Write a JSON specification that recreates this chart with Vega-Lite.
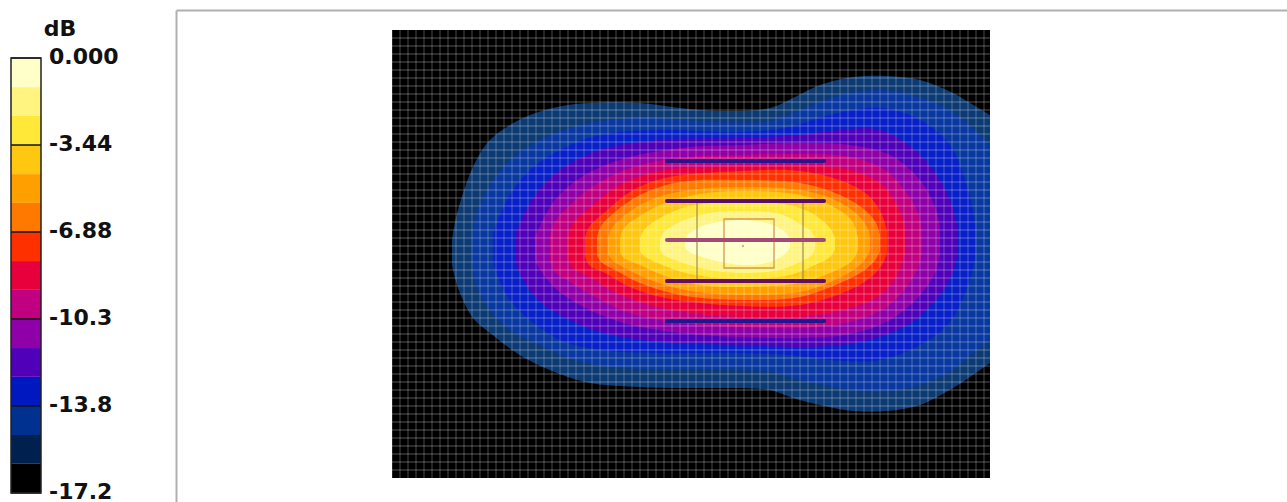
{"$schema":"https://vega.github.io/schema/vega-lite/v6.json","background":"white","padding":{"left":10,"top":10,"right":0,"bottom":0},"spacing":0,"config":{"view":{"stroke":null}},"resolve":{"scale":{"color":"independent"}},
"datasets":{
"bands":[{"k":0,"lo":-17.2,"hi":-16.05},{"k":1,"lo":-16.05,"hi":-14.91},{"k":2,"lo":-14.91,"hi":-13.76},{"k":3,"lo":-13.76,"hi":-12.61},{"k":4,"lo":-12.61,"hi":-11.47},{"k":5,"lo":-11.47,"hi":-10.32},{"k":6,"lo":-10.32,"hi":-9.17},{"k":7,"lo":-9.17,"hi":-8.03},{"k":8,"lo":-8.03,"hi":-6.88},{"k":9,"lo":-6.88,"hi":-5.73},{"k":10,"lo":-5.73,"hi":-4.59},{"k":11,"lo":-4.59,"hi":-3.44},{"k":12,"lo":-3.44,"hi":-2.29},{"k":13,"lo":-2.29,"hi":-1.15},{"k":14,"lo":-1.15,"hi":0}],
"ticks":[{"v":0,"label":"0.000"},{"v":-3.44,"label":"-3.44"},{"v":-6.88,"label":"-6.88"},{"v":-10.32,"label":"-10.3"},{"v":-13.76,"label":"-13.8"},{"v":-17.2,"label":"-17.2"}],
"contours":[
{"k":1,"x":-290,"y":5,"y2":-20},{"k":1,"x":-287,"y":23,"y2":-33},{"k":1,"x":-282,"y":42,"y2":-48},{"k":1,"x":-269,"y":78,"y2":-73},{"k":1,"x":-252,"y":105,"y2":-88},{"k":1,"x":-219,"y":127,"y2":-112},{"k":1,"x":-185,"y":138,"y2":-128},{"k":1,"x":-152,"y":142,"y2":-138},{"k":1,"x":-102,"y":142,"y2":-142},{"k":1,"x":-62,"y":137,"y2":-143},{"k":1,"x":-22,"y":134,"y2":-143},{"k":1,"x":28,"y":137,"y2":-145},{"k":1,"x":51,"y":147,"y2":-153},{"k":1,"x":78,"y":160,"y2":-160},{"k":1,"x":111,"y":168,"y2":-166},{"k":1,"x":145,"y":169,"y2":-166},{"k":1,"x":178,"y":165,"y2":-160},{"k":1,"x":211,"y":152,"y2":-143},{"k":1,"x":228,"y":142,"y2":-132},{"k":1,"x":248,"y":130,"y2":-118},
{"k":2,"x":-270,"y":8,"y2":-18},{"k":2,"x":-266,"y":30,"y2":-40},{"k":2,"x":-252,"y":60,"y2":-65},{"k":2,"x":-232,"y":85,"y2":-85},{"k":2,"x":-202,"y":105,"y2":-100},{"k":2,"x":-162,"y":120,"y2":-117},{"k":2,"x":-102,"y":127,"y2":-124},{"k":2,"x":-22,"y":123,"y2":-125},{"k":2,"x":28,"y":124,"y2":-127},{"k":2,"x":58,"y":135,"y2":-135},{"k":2,"x":98,"y":150,"y2":-143},{"k":2,"x":138,"y":155,"y2":-147},{"k":2,"x":178,"y":148,"y2":-140},{"k":2,"x":208,"y":135,"y2":-127},{"k":2,"x":233,"y":115,"y2":-107},{"k":2,"x":248,"y":100,"y2":-95},
{"k":3,"x":-249,"y":10,"y2":-16},{"k":3,"x":-245,"y":23,"y2":-30},{"k":3,"x":-232,"y":50,"y2":-55},{"k":3,"x":-212,"y":75,"y2":-75},{"k":3,"x":-182,"y":95,"y2":-95},{"k":3,"x":-142,"y":110,"y2":-105},{"k":3,"x":-82,"y":115,"y2":-108},{"k":3,"x":0,"y":113,"y2":-108},{"k":3,"x":48,"y":118,"y2":-110},{"k":3,"x":88,"y":130,"y2":-115},{"k":3,"x":138,"y":137,"y2":-115},{"k":3,"x":178,"y":125,"y2":-100},{"k":3,"x":208,"y":100,"y2":-77},{"k":3,"x":226,"y":55,"y2":-40},{"k":3,"x":233,"y":22,"y2":-15},
{"k":4,"x":-227,"y":10,"y2":-16},{"k":4,"x":-223,"y":20,"y2":-27},{"k":4,"x":-207,"y":50,"y2":-52},{"k":4,"x":-182,"y":75,"y2":-70},{"k":4,"x":-142,"y":95,"y2":-87},{"k":4,"x":-82,"y":105,"y2":-97},{"k":4,"x":0,"y":107,"y2":-100},{"k":4,"x":58,"y":110,"y2":-102},{"k":4,"x":98,"y":115,"y2":-100},{"k":4,"x":138,"y":115,"y2":-92},{"k":4,"x":173,"y":95,"y2":-75},{"k":4,"x":198,"y":65,"y2":-50},{"k":4,"x":210,"y":40,"y2":-30},{"k":4,"x":215,"y":20,"y2":-12},
{"k":5,"x":-207,"y":8,"y2":-14},{"k":5,"x":-203,"y":17,"y2":-23},{"k":5,"x":-187,"y":45,"y2":-43},{"k":5,"x":-162,"y":67,"y2":-60},{"k":5,"x":-122,"y":85,"y2":-77},{"k":5,"x":-62,"y":97,"y2":-88},{"k":5,"x":0,"y":100,"y2":-92},{"k":5,"x":58,"y":102,"y2":-93},{"k":5,"x":108,"y":100,"y2":-89},{"k":5,"x":148,"y":90,"y2":-75},{"k":5,"x":178,"y":65,"y2":-50},{"k":5,"x":193,"y":38,"y2":-28},{"k":5,"x":198,"y":18,"y2":-10},
{"k":6,"x":-192,"y":8,"y2":-14},{"k":6,"x":-188,"y":22,"y2":-26},{"k":6,"x":-172,"y":40,"y2":-37},{"k":6,"x":-147,"y":60,"y2":-52},{"k":6,"x":-112,"y":77,"y2":-68},{"k":6,"x":-62,"y":87,"y2":-78},{"k":6,"x":0,"y":90,"y2":-82},{"k":6,"x":58,"y":91,"y2":-83},{"k":6,"x":108,"y":88,"y2":-77},{"k":6,"x":143,"y":75,"y2":-63},{"k":6,"x":166,"y":50,"y2":-40},{"k":6,"x":176,"y":32,"y2":-23},{"k":6,"x":180,"y":16,"y2":-8},
{"k":7,"x":-174,"y":7,"y2":-11},{"k":7,"x":-170,"y":20,"y2":-22},{"k":7,"x":-152,"y":37,"y2":-32},{"k":7,"x":-127,"y":57,"y2":-47},{"k":7,"x":-92,"y":72,"y2":-60},{"k":7,"x":-42,"y":78,"y2":-69},{"k":7,"x":0,"y":79,"y2":-72},{"k":7,"x":58,"y":80,"y2":-72},{"k":7,"x":108,"y":75,"y2":-63},{"k":7,"x":138,"y":62,"y2":-50},{"k":7,"x":155,"y":40,"y2":-30},{"k":7,"x":160,"y":28,"y2":-18},{"k":7,"x":163,"y":16,"y2":-8},
{"k":8,"x":-157,"y":7,"y2":-11},{"k":8,"x":-153,"y":18,"y2":-20},{"k":8,"x":-137,"y":33,"y2":-28},{"k":8,"x":-112,"y":53,"y2":-42},{"k":8,"x":-77,"y":67,"y2":-53},{"k":8,"x":0,"y":74,"y2":-61},{"k":8,"x":58,"y":74,"y2":-60},{"k":8,"x":103,"y":63,"y2":-47},{"k":8,"x":128,"y":48,"y2":-33},{"k":8,"x":140,"y":30,"y2":-20},{"k":8,"x":145,"y":14,"y2":-8},
{"k":9,"x":-145,"y":8,"y2":-10},{"k":9,"x":-141,"y":19,"y2":-17},{"k":9,"x":-127,"y":33,"y2":-25},{"k":9,"x":-102,"y":50,"y2":-38},{"k":9,"x":-62,"y":63,"y2":-50},{"k":9,"x":0,"y":65,"y2":-55},{"k":9,"x":58,"y":62,"y2":-52},{"k":9,"x":98,"y":50,"y2":-38},{"k":9,"x":123,"y":35,"y2":-25},{"k":9,"x":134,"y":22,"y2":-14},{"k":9,"x":138,"y":10,"y2":-6},
{"k":10,"x":-134,"y":7,"y2":-9},{"k":10,"x":-130,"y":17,"y2":-15},{"k":10,"x":-117,"y":30,"y2":-23},{"k":10,"x":-92,"y":45,"y2":-35},{"k":10,"x":-52,"y":55,"y2":-46},{"k":10,"x":0,"y":58,"y2":-50},{"k":10,"x":58,"y":55,"y2":-47},{"k":10,"x":93,"y":45,"y2":-35},{"k":10,"x":116,"y":30,"y2":-22},{"k":10,"x":126,"y":16,"y2":-10},{"k":10,"x":128,"y":8,"y2":-5},
{"k":11,"x":-122,"y":7,"y2":-7},{"k":11,"x":-118,"y":17,"y2":-13},{"k":11,"x":-102,"y":29,"y2":-20},{"k":11,"x":-77,"y":42,"y2":-31},{"k":11,"x":-42,"y":51,"y2":-40},{"k":11,"x":0,"y":54,"y2":-42},{"k":11,"x":58,"y":50,"y2":-38},{"k":11,"x":88,"y":40,"y2":-28},{"k":11,"x":110,"y":24,"y2":-16},{"k":11,"x":116,"y":8,"y2":-5},
{"k":12,"x":-102,"y":6,"y2":-6},{"k":12,"x":-98,"y":15,"y2":-11},{"k":12,"x":-82,"y":27,"y2":-19},{"k":12,"x":-52,"y":39,"y2":-29},{"k":12,"x":0,"y":43,"y2":-34},{"k":12,"x":48,"y":40,"y2":-30},{"k":12,"x":73,"y":30,"y2":-20},{"k":12,"x":88,"y":17,"y2":-12},{"k":12,"x":93,"y":7,"y2":-5},
{"k":13,"x":-82,"y":5,"y2":-5},{"k":13,"x":-78,"y":13,"y2":-10},{"k":13,"x":-62,"y":23,"y2":-17},{"k":13,"x":-32,"y":32,"y2":-25},{"k":13,"x":0,"y":34,"y2":-28},{"k":13,"x":38,"y":31,"y2":-25},{"k":13,"x":58,"y":21,"y2":-17},{"k":13,"x":70,"y":13,"y2":-10},{"k":13,"x":73,"y":6,"y2":-4},
{"k":14,"x":-57,"y":6,"y2":-3},{"k":14,"x":-52,"y":12,"y2":-7},{"k":14,"x":-37,"y":20,"y2":-13},{"k":14,"x":0,"y":25,"y2":-20},{"k":14,"x":28,"y":21,"y2":-17},{"k":14,"x":43,"y":13,"y2":-9},{"k":14,"x":48,"y":6,"y2":-3}],
"gridX":[{"g":-350},{"g":-342},{"g":-334},{"g":-326},{"g":-318},{"g":-310},{"g":-302},{"g":-294},{"g":-286},{"g":-278},{"g":-270},{"g":-262},{"g":-254},{"g":-246},{"g":-238},{"g":-230},{"g":-222},{"g":-214},{"g":-206},{"g":-198},{"g":-190},{"g":-182},{"g":-174},{"g":-166},{"g":-158},{"g":-150},{"g":-142},{"g":-134},{"g":-126},{"g":-118},{"g":-110},{"g":-102},{"g":-94},{"g":-86},{"g":-78},{"g":-70},{"g":-62},{"g":-54},{"g":-46},{"g":-38},{"g":-30},{"g":-22},{"g":-14},{"g":-6},{"g":2},{"g":10},{"g":18},{"g":26},{"g":34},{"g":42},{"g":50},{"g":58},{"g":66},{"g":74},{"g":82},{"g":90},{"g":98},{"g":106},{"g":114},{"g":122},{"g":130},{"g":138},{"g":146},{"g":154},{"g":162},{"g":170},{"g":178},{"g":186},{"g":194},{"g":202},{"g":210},{"g":218},{"g":226},{"g":234},{"g":242}],
"gridY":[{"g":207},{"g":199},{"g":191},{"g":183},{"g":175},{"g":167},{"g":159},{"g":151},{"g":143},{"g":135},{"g":127},{"g":119},{"g":111},{"g":103},{"g":95},{"g":87},{"g":79},{"g":71},{"g":63},{"g":55},{"g":47},{"g":39},{"g":31},{"g":23},{"g":15},{"g":7},{"g":-1},{"g":-9},{"g":-17},{"g":-25},{"g":-33},{"g":-41},{"g":-49},{"g":-57},{"g":-65},{"g":-73},{"g":-81},{"g":-89},{"g":-97},{"g":-105},{"g":-113},{"g":-121},{"g":-129},{"g":-137},{"g":-145},{"g":-153},{"g":-161},{"g":-169},{"g":-177},{"g":-185},{"g":-193},{"g":-201},{"g":-209},{"g":-217},{"g":-225}],
"elements":[{"el":"a","x":-75,"x2":82,"y":84},{"el":"b","x":-75,"x2":82,"y":44},{"el":"c","x":-75,"x2":82,"y":5},{"el":"d","x":-75,"x2":82,"y":-36},{"el":"e","x":-75,"x2":82,"y":-76}],
"struts":[{"x":-45,"y":44,"y2":-36},{"x":61,"y":44,"y2":-36}]
},
"hconcat":[
{"width":165,"height":492,"layer":[
{"data":{"name":"bands"},"mark":{"type":"rect"},"encoding":{
"x":{"datum":0,"type":"quantitative","scale":{"domain":[0,165],"nice":false,"zero":false},"axis":null},"x2":{"datum":30},
"y":{"field":"lo","type":"quantitative","scale":{"domain":[-17.56,1.9],"nice":false,"zero":false},"axis":null},"y2":{"field":"hi"},
"color":{"field":"k","type":"ordinal","legend":null,"scale":{"domain":[0,1,2,3,4,5,6,7,8,9,10,11,12,13,14],"range":["#000000","#00204f","#003090","#0018c0","#5000b8","#9000a8","#c00080","#e8003c","#ff3000","#ff7800","#ffa000","#ffc810","#ffe838","#fff480","#ffffc8"]}}}},
{"data":{"name":"ticks"},"mark":{"type":"rule","color":"#111111","strokeWidth":1.5},"encoding":{"x":{"datum":0,"type":"quantitative"},"x2":{"datum":30},"y":{"field":"v","type":"quantitative"}}},
{"data":{"values":[{"a":0}]},"mark":{"type":"rect","fill":null,"stroke":"#222222","strokeWidth":1.5},"encoding":{"x":{"datum":0,"type":"quantitative"},"x2":{"datum":30},"y":{"datum":-17.2,"type":"quantitative"},"y2":{"datum":0}}},
{"data":{"name":"ticks"},"mark":{"type":"text","align":"left","baseline":"middle","font":"DejaVu Sans","fontWeight":"bold","fontSize":22,"color":"#111111","dy":-1},"encoding":{"x":{"datum":38,"type":"quantitative"},"y":{"field":"v","type":"quantitative"},"text":{"field":"label"}}},
{"data":{"values":[{"title":"dB"}]},"mark":{"type":"text","align":"center","baseline":"middle","font":"DejaVu Sans","fontWeight":"bold","fontSize":22,"color":"#111111"},"encoding":{"x":{"datum":49,"type":"quantitative"},"y":{"datum":1.15,"type":"quantitative"},"text":{"field":"title"}}}
]},
{"width":1111,"height":492,"layer":[
{"data":{"values":[{"x":-350,"x2":248,"y":215,"y2":-233}]},"mark":{"type":"rect","color":"#000000"},"encoding":{
"x":{"field":"x","type":"quantitative","scale":{"domain":[-566,545],"nice":false,"zero":false},"axis":{"orient":"top","title":null,"labels":false,"ticks":false,"grid":false,"domain":true,"domainColor":"#b0b0b0","domainWidth":2}},"x2":{"field":"x2"},
"y":{"field":"y","type":"quantitative","scale":{"domain":[-257,235],"nice":false,"zero":false},"axis":{"orient":"left","title":null,"labels":false,"ticks":false,"grid":false,"domain":true,"domainColor":"#b0b0b0","domainWidth":2}},"y2":{"field":"y2"}}},
{"data":{"name":"contours"},"mark":{"type":"area","interpolate":"catmull-rom","orient":"vertical"},"encoding":{"x":{"field":"x","type":"quantitative"},"y":{"field":"y","type":"quantitative"},"y2":{"field":"y2"},"detail":{"field":"k"},"color":{"field":"k","type":"ordinal","legend":null,"scale":{"domain":[1,2,3,4,5,6,7,8,9,10,11,12,13,14],"range":["#0c3a72","#0838a0","#0820c8","#5000b8","#9000a8","#c00080","#e8003c","#ff3000","#ff7800","#ffa000","#ffc810","#ffe838","#fff480","#ffffc8"]}}}},
{"data":{"name":"gridX"},"mark":{"type":"rule","color":"#ffffff","opacity":0.22,"strokeWidth":1.3},"encoding":{"x":{"field":"g","type":"quantitative"},"y":{"datum":215,"type":"quantitative"},"y2":{"datum":-233}}},
{"data":{"name":"gridY"},"mark":{"type":"rule","color":"#ffffff","opacity":0.22,"strokeWidth":1.3},"encoding":{"y":{"field":"g","type":"quantitative"},"x":{"datum":-350,"type":"quantitative"},"x2":{"datum":248}}},
{"data":{"name":"struts"},"mark":{"type":"rule","color":"#a08a50","strokeWidth":1.2},"encoding":{"x":{"field":"x","type":"quantitative"},"y":{"field":"y","type":"quantitative"},"y2":{"field":"y2"}}},
{"data":{"values":[{"x":-18,"x2":32,"y":26,"y2":-23}]},"mark":{"type":"rect","fill":null,"stroke":"#d09a50","strokeWidth":1.3},"encoding":{"x":{"field":"x","type":"quantitative"},"x2":{"field":"x2"},"y":{"field":"y","type":"quantitative"},"y2":{"field":"y2"}}},
{"data":{"name":"elements"},"mark":{"type":"rule","strokeWidth":4,"strokeCap":"round"},"encoding":{"x":{"field":"x","type":"quantitative"},"x2":{"field":"x2"},"y":{"field":"y","type":"quantitative"},"stroke":{"field":"el","type":"nominal","legend":null,"scale":{"domain":["a","b","c","d","e"],"range":["#2a1488","#55106f","#a04a78","#641060","#1c1890"]}}}},
{"data":{"values":[{"x":1,"y":-1}]},"mark":{"type":"point","filled":true,"color":"#70c070","size":6},"encoding":{"x":{"field":"x","type":"quantitative"},"y":{"field":"y","type":"quantitative"}}}
]}
]}
